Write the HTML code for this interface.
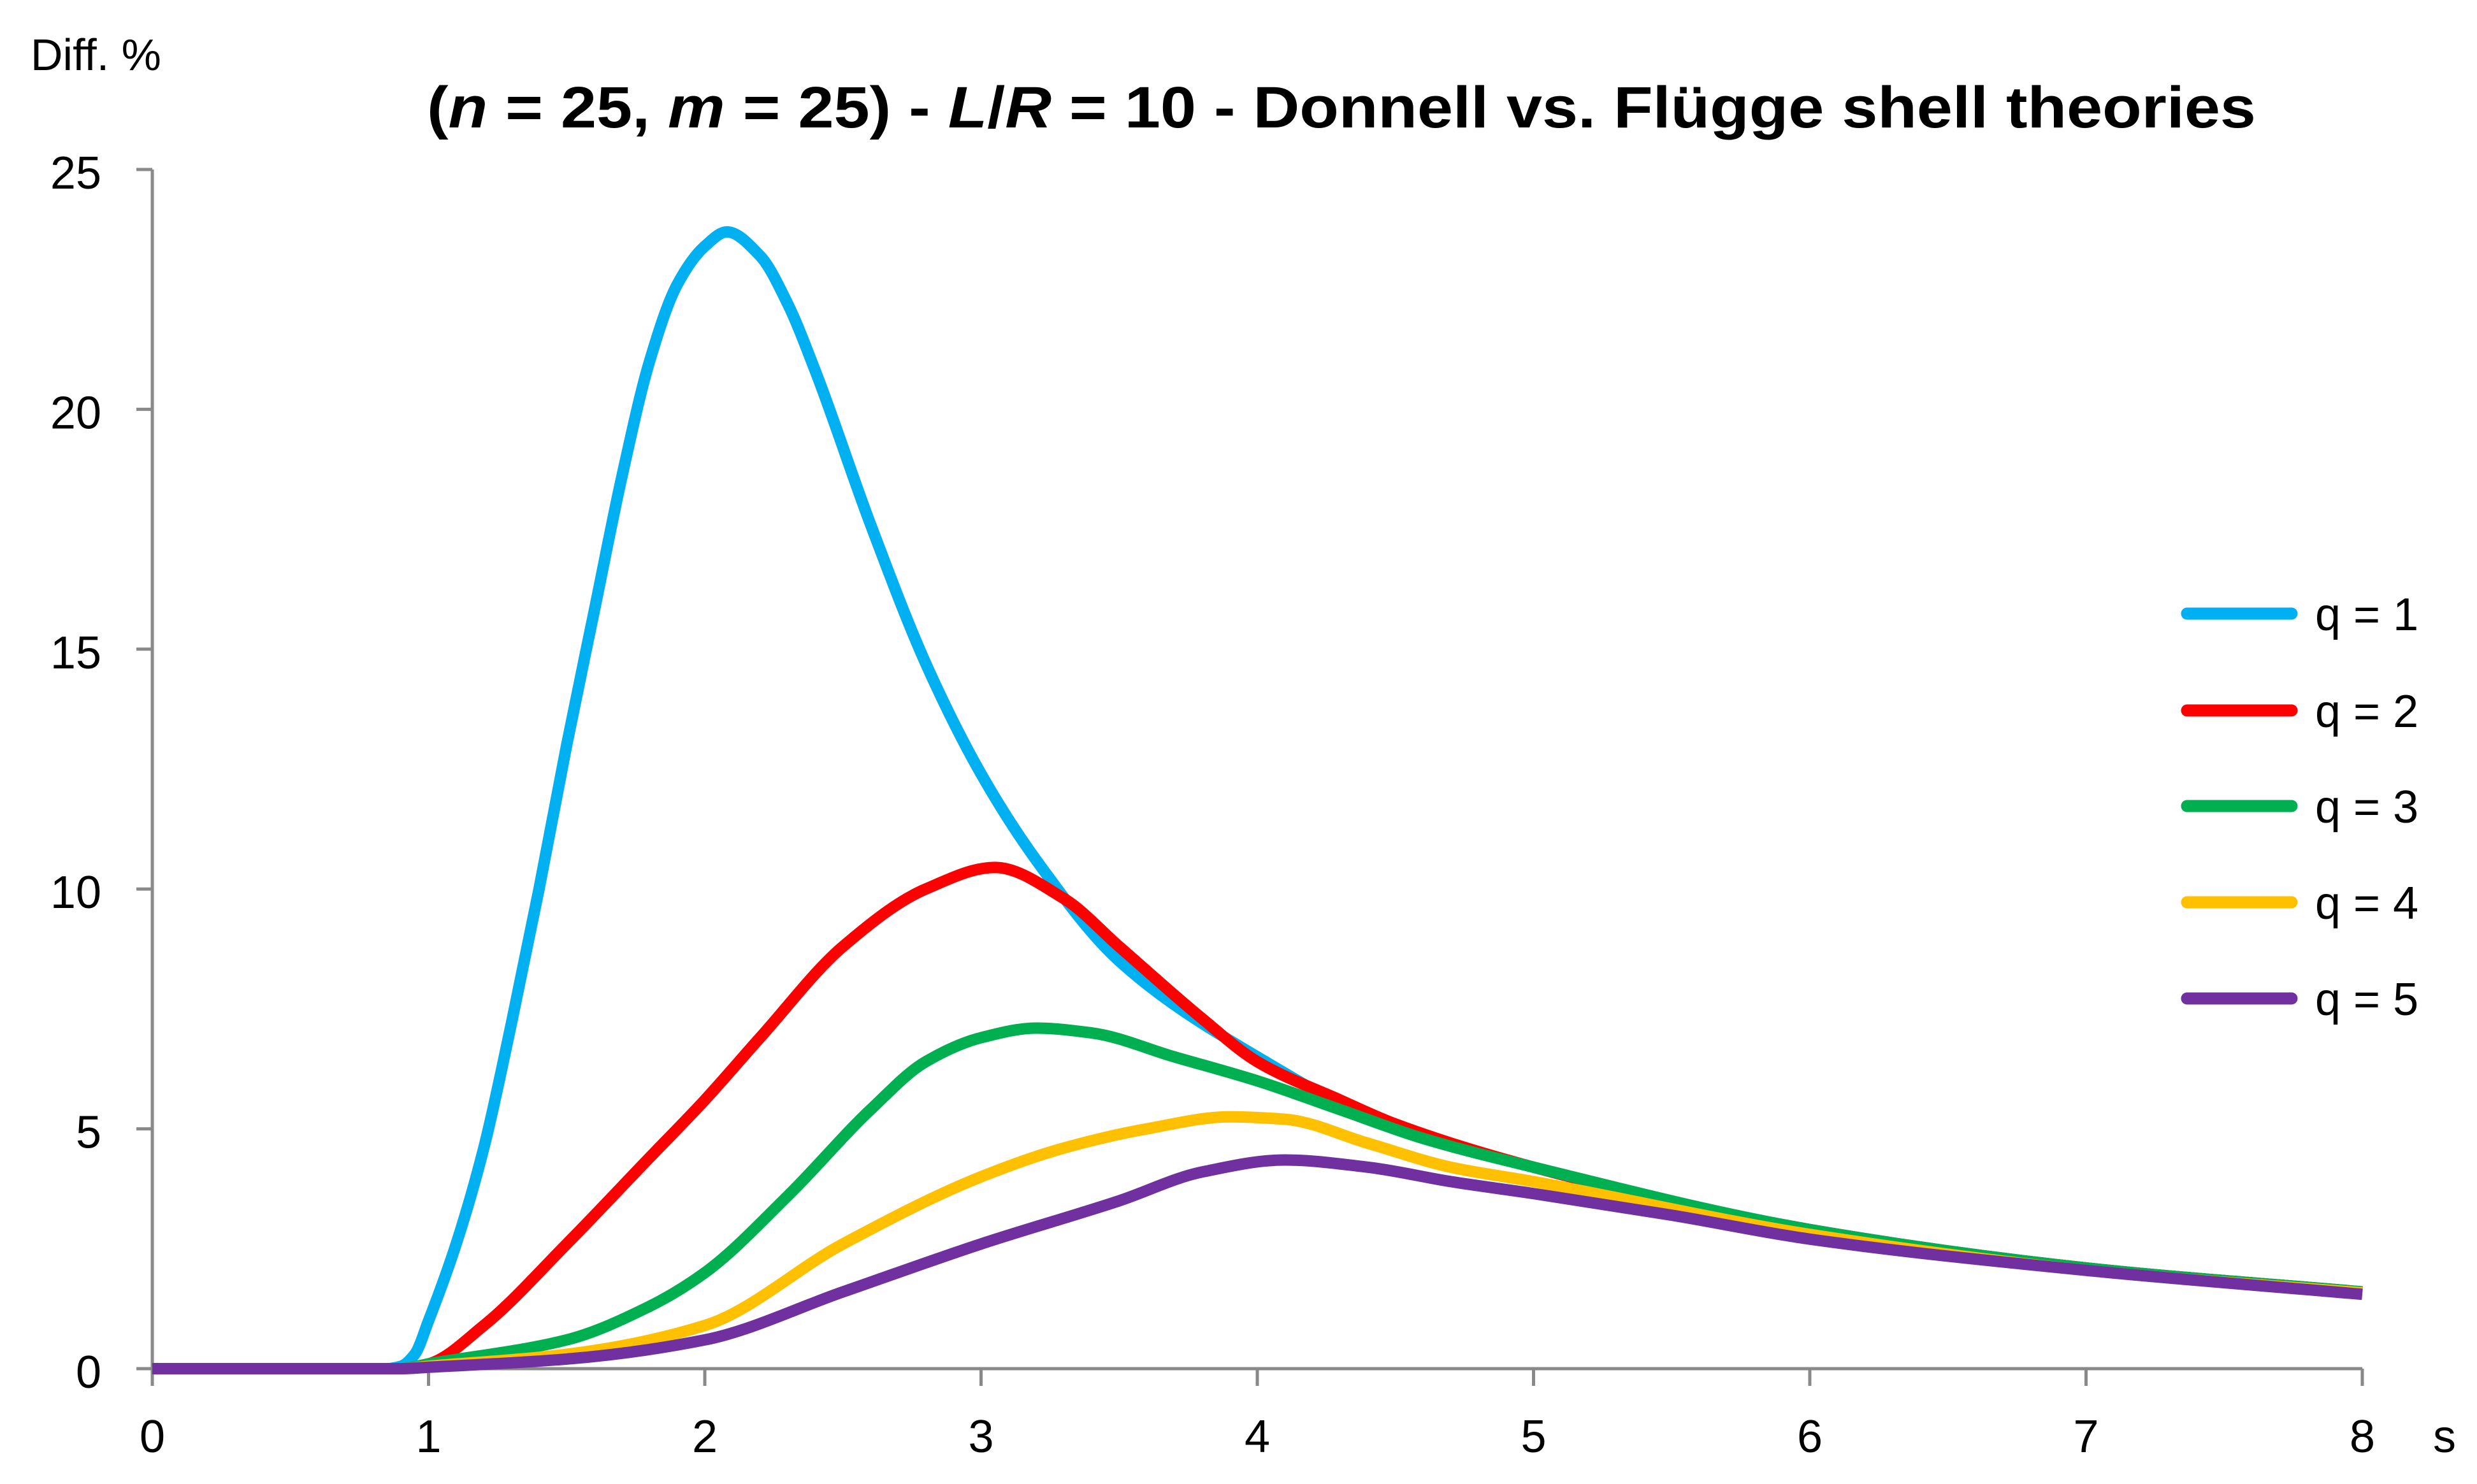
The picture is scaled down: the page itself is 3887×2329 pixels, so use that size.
<!DOCTYPE html>
<html><head><meta charset="utf-8"><style>
html,body{margin:0;padding:0;background:#fff;}
svg text{font-family:"Liberation Sans",sans-serif;}
</style></head><body>
<svg id="chart" width="3887" height="2324" viewBox="0 0 3887 2324" xmlns="http://www.w3.org/2000/svg">
<text x="48" y="110" font-size="70">Diff. %</text>
<text x="2105" y="200" font-size="92" font-weight="bold" text-anchor="middle" textLength="2870" lengthAdjust="spacingAndGlyphs">(<tspan font-style="italic">n</tspan> = 25, <tspan font-style="italic">m</tspan> = 25) - <tspan font-style="italic">L</tspan>/<tspan font-style="italic">R</tspan> = 10 - Donnell vs. Flügge shell theories</text>
<g id="axes"></g>
<g id="series"></g>
<g id="legend"></g>
</svg>
<script>
const xTicks=[0,1,2,3,4,5,6,7,8];
const yTicks=[0,5,10,15,20,25];
const seriesNames=["q = 1","q = 2","q = 3","q = 4","q = 5"];
const seriesColors=["#00B0F0","#FF0000","#00B050","#FFC000","#7030A0"];
const xs1=[0,0.85,0.9,0.95,1.0,1.1,1.2,1.3,1.4,1.5,1.6,1.7,1.8,1.9,2.0,2.08,2.2,2.3,2.4,2.6,2.8,3.0,3.2,3.5,4.0,4.5,5.0,6.0,7.0,8.0];
const ys1=[0,0,0.05,0.3,1.0,2.6,4.6,7.2,10,13,15.8,18.6,21,22.6,23.4,23.7,23.2,22.2,20.8,17.6,14.7,12.4,10.6,8.5,6.5,5.0,4.2,2.9,2.1,1.6];
const xs2=[0,0.9,1.0,1.2,1.5,1.8,2.0,2.2,2.5,2.8,3.05,3.3,3.5,3.8,4.0,4.3,4.5,5.0,6.0,7.0,8.0];
const ys2=[0,0,0.1,0.9,2.6,4.4,5.6,6.9,8.8,10.0,10.45,9.8,8.8,7.3,6.4,5.6,5.1,4.2,2.9,2.1,1.6];
const xs3=[0,0.9,1.0,1.5,1.8,2.0,2.3,2.6,2.8,3.0,3.2,3.4,3.7,4.0,4.3,4.6,5.0,6.0,7.0,8.0];
const ys3=[0,0,0.1,0.6,1.3,2.0,3.6,5.4,6.4,6.9,7.1,7.0,6.5,6.0,5.4,4.8,4.2,2.9,2.1,1.6];
const xs4=[0,0.9,1.0,1.5,2.0,2.5,3.0,3.3,3.6,3.9,4.1,4.4,4.7,5.0,6.0,7.0,8.0];
const ys4=[0,0,0.05,0.3,0.9,2.6,4.0,4.6,5.0,5.25,5.2,4.7,4.2,3.9,2.8,2.05,1.58];
const xs5=[0,0.9,1.0,1.5,2.0,2.5,3.0,3.5,3.8,4.1,4.4,4.7,5.0,5.5,6.0,7.0,8.0];
const ys5=[0,0,0.03,0.2,0.6,1.6,2.6,3.5,4.1,4.35,4.2,3.9,3.65,3.2,2.7,2.05,1.55];
const allX=[xs1,xs2,xs3,xs4,xs5], allY=[ys1,ys2,ys3,ys4,ys5];
const NS="http://www.w3.org/2000/svg";
const X0=239,XU=433.5,Y0=2148,YU=(2148-266)/25;
function sx(v){return X0+v*XU;}
function sy(v){return Y0-v*YU;}
function mk(tag,attrs,parent){const e=document.createElementNS(NS,tag);for(const k in attrs)e.setAttribute(k,attrs[k]);parent.appendChild(e);return e;}
const axes=document.getElementById('axes');
let e=mk('line',{x1:sx(0),y1:sy(25),x2:sx(0),y2:sy(0)+12,stroke:'#898989','stroke-width':5},axes);


e=mk('line',{x1:sx(0)-20,y1:sy(0),x2:sx(8),y2:sy(0),stroke:'#898989','stroke-width':5},axes);


yTicks.forEach(t=>{
  let l=mk('line',{x1:sx(0)-25,y1:sy(t),x2:sx(0),y2:sy(t),stroke:'#898989','stroke-width':5},axes);
  
  
  let tx=mk('text',{x:sx(0)-80,y:sy(t)+30,'font-size':72,'text-anchor':'end'},axes);
  tx.textContent=t;
  
  
});
xTicks.forEach(t=>{
  let l=mk('line',{x1:sx(t),y1:sy(0),x2:sx(t),y2:sy(0)+27,stroke:'#898989','stroke-width':5},axes);
  
  
  let tx=mk('text',{x:sx(t),y:2279,'font-size':72,'text-anchor':'middle'},axes);
  tx.textContent=t;
  
  
});
let st=mk('text',{x:3836,y:2279,'font-size':72,'text-anchor':'middle'},axes);
st.textContent='s';


function pathFor(xa,ya){
  const n=xa.length, px=xa.map(sx), py=ya.map(sy);
  const d=[],m=[];
  for(let i=0;i<n-1;i++)d.push((py[i+1]-py[i])/(px[i+1]-px[i]));
  m[0]=d[0];m[n-1]=d[n-2];
  for(let i=1;i<n-1;i++){
    if(d[i-1]*d[i]<=0)m[i]=0;
    else{const w1=2*(px[i+1]-px[i])+(px[i]-px[i-1]),w2=(px[i+1]-px[i])+2*(px[i]-px[i-1]);m[i]=(w1+w2)/(w1/d[i-1]+w2/d[i]);}
  }
  let s='M'+px[0]+','+py[0];
  for(let i=0;i<n-1;i++){
    const h=(px[i+1]-px[i])/3;
    s+=' C'+(px[i]+h)+','+(py[i]+m[i]*h)+' '+(px[i+1]-h)+','+(py[i+1]-m[i+1]*h)+' '+px[i+1]+','+py[i+1];
  }
  return s;
}
const ser=document.getElementById('series'), leg=document.getElementById('legend');
const legY=[963,1115,1265,1416,1567];
for(let i=0;i<5;i++){
  let p=mk('path',{d:pathFor(allX[i],allY[i]),fill:'none',stroke:seriesColors[i],'stroke-width':18,'stroke-linejoin':'round'},ser);
  
  
  let l=mk('line',{x1:3432,y1:legY[i],x2:3596,y2:legY[i],stroke:seriesColors[i],'stroke-width':19,'stroke-linecap':'round'},leg);
  
  
  let t=mk('text',{x:3633,y:legY[i]+26,'font-size':72},leg);
  t.textContent=seriesNames[i];
  
  
}
</script>
</body></html>
